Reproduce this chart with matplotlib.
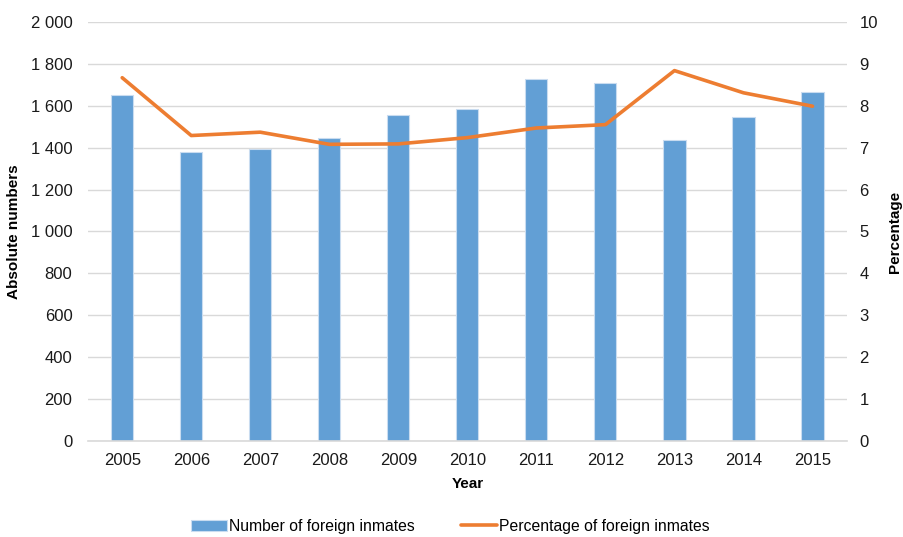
import matplotlib
matplotlib.use("Agg")
import matplotlib.pyplot as plt
from matplotlib.ticker import FuncFormatter, MultipleLocator
import numpy as np

plt.rcParams["font.family"] = ["Liberation Sans", "DejaVu Sans"]

years = ["2005", "2006", "2007", "2008", "2009", "2010",
         "2011", "2012", "2013", "2014", "2015"]
inmates = [1650, 1377, 1392, 1447, 1557, 1587, 1729, 1708, 1436, 1547, 1664]
percentage = [8.67, 7.29, 7.37, 7.08, 7.09, 7.24, 7.47, 7.55, 8.84, 8.31, 7.99]

bar_color = "#629FD5"
line_color = "#ED7D31"
grid_color = "#D9D9D9"

fig = plt.figure(figsize=(9.04, 5.37), dpi=100)
ax = fig.add_axes([0.097, 0.179, 0.84, 0.78])
ax2 = ax.twinx()

x = np.arange(len(years))
ax.bar(x, inmates, width=0.32, color=bar_color, edgecolor="#C9DCF0",
       linewidth=0.8, label="Number of foreign inmates", zorder=2)
ax2.plot(x, percentage, color=line_color, linewidth=2.6,
         solid_capstyle="round", label="Percentage of foreign inmates")

ax.set_xlim(-0.5, len(years) - 0.5)
ax.set_ylim(0, 2000)
ax2.set_ylim(0, 10)
ax.yaxis.set_major_locator(MultipleLocator(200))
ax2.yaxis.set_major_locator(MultipleLocator(1))
ax.yaxis.set_major_formatter(FuncFormatter(lambda v, p: f"{int(v):,}".replace(",", " ")))

ax.set_axisbelow(True)
ax.yaxis.grid(True, color=grid_color, linewidth=1)
for side in ["top", "left", "right"]:
    ax.spines[side].set_visible(False)
    ax2.spines[side].set_visible(False)
ax2.spines["bottom"].set_visible(False)
ax.spines["bottom"].set_color(grid_color)
ax.spines["bottom"].set_linewidth(1.2)

ax.set_xticks(x)
ax.set_xticklabels(years)
ax.tick_params(axis="x", length=0, pad=9, labelsize=12, colors="#1a1a1a")
ax.tick_params(axis="y", length=0, pad=11, labelsize=12, colors="#1a1a1a")
ax2.tick_params(axis="y", length=0, pad=9, labelsize=12, colors="#1a1a1a")

ax.set_xlabel("Year", fontsize=11, fontweight="bold", labelpad=6)
ax.set_ylabel("Absolute numbers", fontsize=11, fontweight="bold", labelpad=7)
ax2.set_ylabel("Percentage", fontsize=11, fontweight="bold", rotation=90, labelpad=7)

handles = ax.get_legend_handles_labels()[0] + ax2.get_legend_handles_labels()[0]
labels = ax.get_legend_handles_labels()[1] + ax2.get_legend_handles_labels()[1]
fig.legend(handles, labels, loc="center", bbox_to_anchor=(0.498, 0.02),
           ncol=2, frameon=False, fontsize=11.3, handlelength=2.3,
           handletextpad=0.15, columnspacing=2.9)

fig.savefig("out.png", dpi=100)
